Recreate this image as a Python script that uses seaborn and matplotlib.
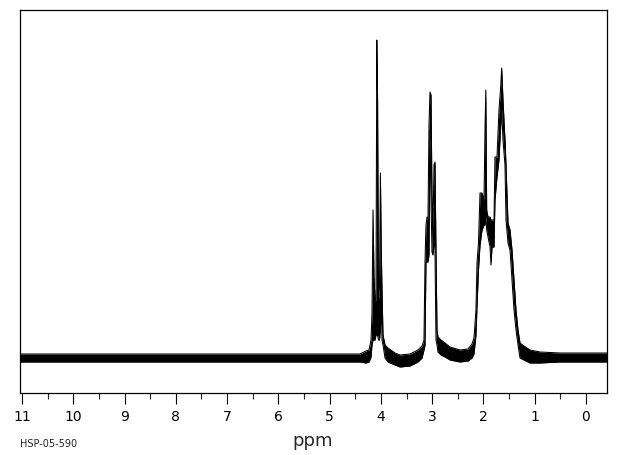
import matplotlib
matplotlib.use("Agg")
import matplotlib.pyplot as plt
import seaborn as sns
import pandas as pd

# Pixel-column samples of the trace: x position (px) converted to ppm below,
# and lower / upper extent of the trace (noise band / peak).
col_px = [20, 100, 200, 300, 360, 366, 369, 371, 372, 373, 374, 375, 376, 376.8,
          377.6, 378.5, 379.5, 380.4, 381.3, 382, 383, 385, 388, 395, 400, 410,
          418, 422, 424, 425, 426, 427, 428, 429, 430, 431, 432, 433, 434,
          435, 436, 437, 438, 441, 445, 450, 460, 468, 472, 474, 476,
          477, 478.5, 480, 482, 484, 485, 485.8, 486.7, 488, 490, 491, 492, 494,
          495, 497, 499, 500.5, 501.7, 503, 505, 506, 508, 510, 512, 514, 516,
          518, 520, 524, 530, 540, 560, 607]
low = [-4, -4, -4, -4, -4, -5, -4, 1, 13, 18, 18, 18, 23, 23,
       23, 18, 18, 28, 58, 18, 13, 0, -4, -7, -9, -8,
       -4, 0, 8, 13, 96, 96, 96, 103, 228, 158, 106, 103, 118,
       108, 18, 13, 6, 3, 1, -2, -4, -3, 0, 4, 23,
       51, 88, 113, 128, 133, 133, 143, 128, 121, 111, 93, 111, 111,
       158, 181, 198, 228, 248, 218, 193, 138, 115, 108, 78, 48, 28,
       13, 0, -2, -5, -5, -4, -4]
high = [4, 4, 4, 4, 4, 7, 8, 18, 45, 148, 81, 58, 58, 318,
        258, 58, 71, 185, 108, 68, 23, 13, 10, 5, 3, 4,
        8, 12, 18, 96, 133, 141, 140, 233, 266, 263, 163, 128, 193,
        196, 108, 28, 21, 18, 15, 11, 8, 9, 14, 20, 48,
        95, 115, 165, 165, 158, 228, 268, 148, 141, 141, 138, 138, 138,
        201, 201, 248, 268, 290, 258, 218, 193, 135, 128, 108, 78, 48,
        28, 15, 12, 8, 6, 5, 5]

tick_values = list(range(0, 12))
tick_labels = [str(v) for v in tick_values]

# pixel -> ppm calibration (11 ppm at x=22, 0 ppm at x=586)
ppm = [round((586 - x) / 51.27, 3) for x in col_px]
df = pd.DataFrame({"ppm": ppm, "low": low, "high": high})

sns.set_style("ticks")
plt.rcParams["font.family"] = ["DejaVu Sans"]

fig = plt.figure(figsize=(6.2, 4.55), dpi=100)
ax = fig.add_axes([20 / 620, 62 / 455, 587 / 620, 383 / 455])

ax.fill_between(df["ppm"], df["low"], df["high"], color="black", linewidth=0)
sns.lineplot(data=df, x="ppm", y="high", ax=ax, color="black", linewidth=0.75,
             sort=False, estimator=None)
sns.lineplot(data=df, x="ppm", y="low", ax=ax, color="black", linewidth=0.75,
             sort=False, estimator=None)

ax.set_xlim(11.04, -0.41)
ax.set_ylim(-35, 348)
ax.set_xticks(tick_values)
ax.set_xticklabels(tick_labels, fontsize=10)
ax.set_xticks([v + 0.5 for v in range(0, 11)], minor=True)
ax.tick_params(axis="x", which="major", direction="out", length=8, width=0.8,
               pad=4, colors="black")
ax.tick_params(axis="x", which="minor", direction="out", length=4.3, width=0.8)
ax.set_yticks([])
ax.set_xlabel("")
ax.set_ylabel("")
for s in ax.spines.values():
    s.set_visible(True)
    s.set_color("black")
    s.set_linewidth(0.9)

fig.text(313 / 620, 1 - 441 / 455, "ppm", ha="center", va="center", fontsize=13)
fig.text(20 / 620, 1 - 444 / 455, "HSP-05-590", ha="left", va="center", fontsize=7)

fig.savefig("out.png", dpi=100)
